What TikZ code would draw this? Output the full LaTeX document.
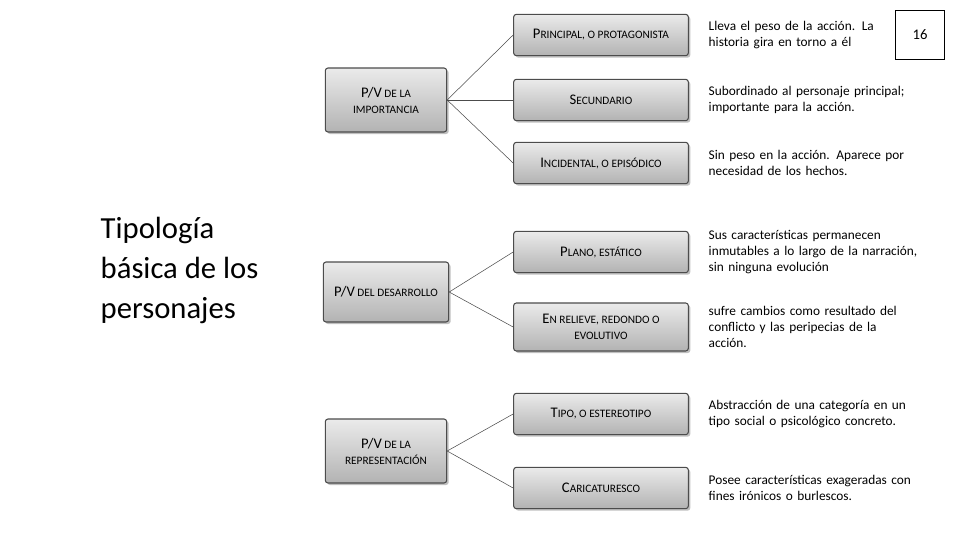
\documentclass[tikz,border=0pt]{standalone}
\usepackage{fontspec}
\setmainfont{Carlito}
\usetikzlibrary{shadows}
\newcommand{\fsc}[2]{{\fontsize{11}{12}\selectfont #1}{\fontsize{8.5}{10}\selectfont #2}}
\tikzset{
  box/.style={draw=black!70,line width=0.8pt,rounded corners=2pt,top color=black!8,bottom color=black!30,
    drop shadow={shadow xshift=1.5pt,shadow yshift=-1.5pt,fill=black!50},align=center,inner sep=2pt},
  lbox/.style={box,minimum width=91pt,minimum height=48pt},
  rbox/.style={box,minimum width=131pt,minimum height=31pt},
  note/.style={anchor=west,align=left,font=\fontsize{10}{12}\selectfont,text width=170pt},
  link/.style={draw=black!70,line width=0.4pt}
}
\begin{document}
\begin{tikzpicture}[x=0.75pt,y=-0.75pt]
\useasboundingbox (0,0) rectangle (960,540);
\node[draw,line width=0.6pt,minimum width=37pt,minimum height=37pt,font=\fontsize{11}{12}\selectfont] (pg) at (920,35) {16};
\node[anchor=west,align=left,font=\fontsize{23}{30}\selectfont] (title) at (96,270) {Tipología\\básica de los\\personajes};
% left boxes
\node[lbox] (imp) at (386,100) {\fsc{P/V}{ DE LA}\\\fsc{}{IMPORTANCIA}};
\node[lbox,minimum height=45pt,minimum width=94pt] (des) at (386,292) {\fsc{P/V}{ DEL DESARROLLO}};
\node[lbox] (rep) at (386,451) {\fsc{P/V}{ DE LA}\\\fsc{}{REPRESENTACIÓN}};
% right boxes
\node[rbox] (pri) at (601,35) {\fsc{P}{RINCIPAL, O PROTAGONISTA}};
\node[rbox] (sec) at (601,100) {\fsc{S}{ECUNDARIO}};
\node[rbox] (inc) at (601,163) {\fsc{I}{NCIDENTAL, O EPISÓDICO}};
\node[rbox] (pla) at (601,252) {\fsc{P}{LANO, ESTÁTICO}};
\node[rbox,minimum height=36pt] (rel) at (601,327) {\fsc{E}{N RELIEVE, REDONDO O}\\\fsc{}{EVOLUTIVO}};
\node[rbox] (tip) at (601,414) {\fsc{T}{IPO, O ESTEREOTIPO}};
\node[rbox] (car) at (601,488) {\fsc{C}{ARICATURESCO}};
% connectors
\foreach \a/\b in {imp/pri,imp/sec,imp/inc,des/pla,des/rel,rep/tip,rep/car}
  \draw[link] (\a.east) -- (\b.west);
% notes
\node[note] (npri) at (704,35) {Lleva el peso de la acción. La\\historia gira en torno a él};
\node[note] (nsec) at (704,100) {Subordinado al personaje principal;\\importante para la acción.};
\node[note] (ninc) at (704,163) {Sin peso en la acción. Aparece por\\necesidad de los hechos.};
\node[note] (npla) at (704,252) {Sus características permanecen\\inmutables a lo largo de la narración,\\sin ninguna evolución};
\node[note] (nrel) at (704,327) {sufre cambios como resultado del\\conflicto y las peripecias de la\\acción.};
\node[note] (ntip) at (704,414) {Abstracción de una categoría en un\\tipo social o psicológico concreto.};
\node[note] (ncar) at (704,488) {Posee características exageradas con\\fines irónicos o burlescos.};
\end{tikzpicture}
\end{document}
